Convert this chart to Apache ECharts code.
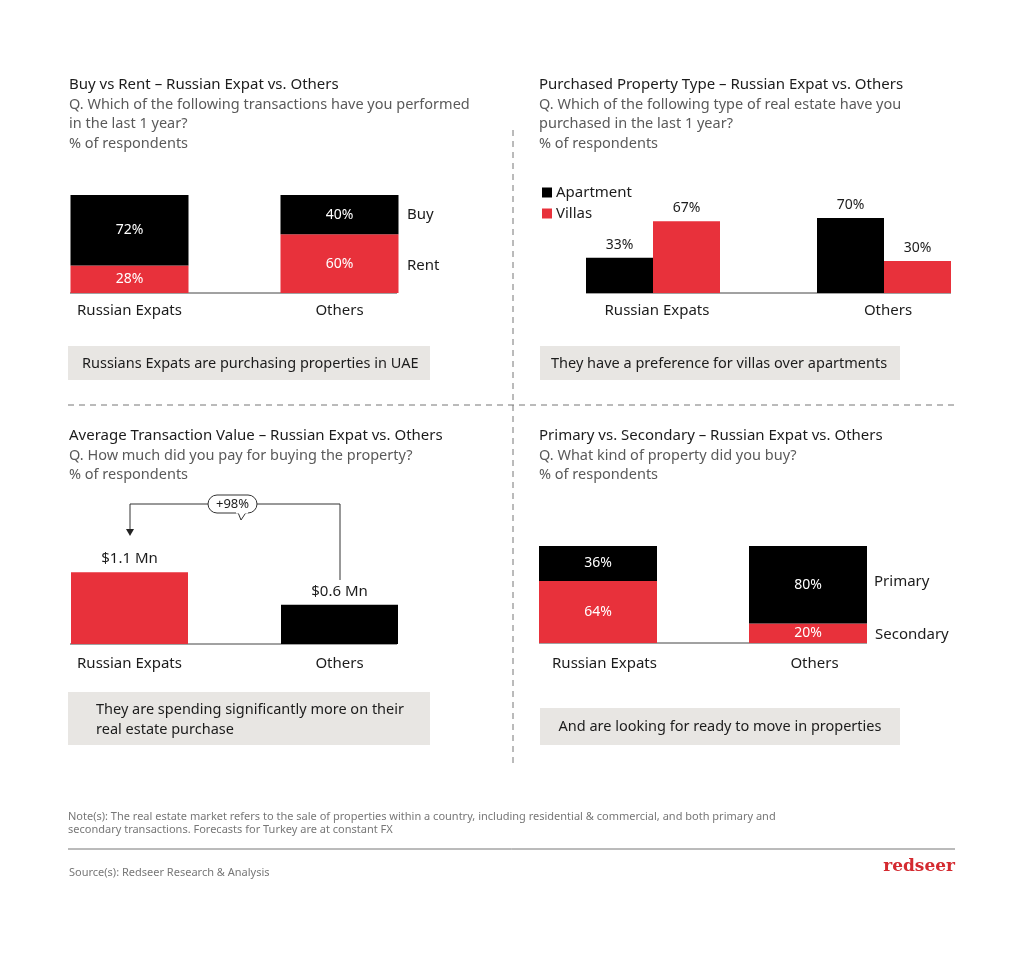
<!DOCTYPE html>
<html><head><meta charset="utf-8">
<script src="https://cdn.jsdelivr.net/npm/echarts@6/dist/echarts.min.js"></script>
<style>html,body{margin:0;padding:0;background:#fff}#c{width:1024px;height:953px}</style>
</head><body><div id="c"></div>
<script>
const categories = ['Russian Expats', 'Others'];
const buyVals = [72, 40];
const rentVals = [28, 60];
const apartmentVals = [33, 70];
const villaVals = [67, 30];
const atvVals = [1.1, 0.6];
const atvLabels = ['$1.1 Mn', '$0.6 Mn'];
const primaryVals = [36, 80];
const secondaryVals = [64, 20];

const RED = '#e8313b', BLACK = '#000000', DARK = '#1c1c1c', GREY = '#5a5a5a', BOX = '#e8e6e3';
const FONT = '"Noto Sans", Lato, sans-serif';

const chart = echarts.init(document.getElementById('c'), null, {renderer: 'canvas'});

function xAx(gi, margin, pad) {
  return {type: 'category', gridIndex: gi, data: categories, axisLine: {show: false}, axisTick: {show: false},
    axisLabel: {color: DARK, fontSize: 15, fontFamily: FONT, margin: margin, padding: pad || 0}};
}
function yAx(gi, max) {
  return {type: 'value', gridIndex: gi, min: 0, max: max, show: false, splitLine: {show: false}};
}
const inLabel = {show: true, position: 'inside', color: '#fff', fontSize: 14, fontFamily: FONT, formatter: p => p.value + '%'};

function txt(x, y, s, size, color, opts) {
  return Object.assign({type: 'text', x: x, y: y + 1.5, style: Object.assign({text: s, fill: color, font: size + 'px ' + FONT, textVerticalAlign: 'middle'}, opts || {})});
}
function hline(x1, x2, y, color, dash) {
  return {type: 'line', shape: {x1: x1, y1: y, x2: x2, y2: y}, style: {stroke: color, lineWidth: 1, lineDash: dash || null}};
}
function vline(x, y1, y2, color, dash) {
  return {type: 'line', shape: {x1: x, y1: y1, x2: x, y2: y2}, style: {stroke: color, lineWidth: 1, lineDash: dash || null}};
}
function box(x, y, w, h) {
  return {type: 'rect', shape: {x: x, y: y, width: w, height: h}, style: {fill: BOX}};
}

const graphics = [
  // dividers
  vline(513, 130, 765, '#777', [6, 5]),
  hline(68, 955, 405, '#777', [6, 5]),
  // panel 1 titles
  txt(69, 83, 'Buy vs Rent – Russian Expat vs. Others', 15, DARK),
  txt(69, 103, 'Q. Which of the following transactions have you performed', 14.5, GREY),
  txt(69, 122, 'in the last 1 year?', 14.5, GREY),
  txt(69, 142, '% of respondents', 14.5, GREY),
  // panel 2 titles
  txt(539, 83, 'Purchased Property Type – Russian Expat vs. Others', 15, DARK),
  txt(539, 103, 'Q. Which of the following type of real estate have you', 14.5, GREY),
  txt(539, 122, 'purchased in the last 1 year?', 14.5, GREY),
  txt(539, 142, '% of respondents', 14.5, GREY),
  // panel 3 titles
  txt(69, 434, 'Average Transaction Value – Russian Expat vs. Others', 15, DARK),
  txt(69, 454, 'Q. How much did you pay for buying the property?', 14.5, GREY),
  txt(69, 473, '% of respondents', 14.5, GREY),
  // panel 4 titles
  txt(539, 434, 'Primary vs. Secondary – Russian Expat vs. Others', 15, DARK),
  txt(539, 454, 'Q. What kind of property did you buy?', 14.5, GREY),
  txt(539, 473, '% of respondents', 14.5, GREY),
  // baselines
  hline(70, 397, 293, '#444'),
  hline(586, 951, 293, '#444'),
  hline(70, 397, 644, '#444'),
  hline(539, 867, 643, '#444'),
  // side labels
  txt(407, 213, 'Buy', 15, DARK),
  txt(407, 264, 'Rent', 15, DARK),
  txt(874, 580, 'Primary', 15, DARK),
  txt(875, 633, 'Secondary', 15, DARK),
  // callouts
  box(68, 346, 362, 34),
  txt(82, 362, 'Russians Expats are purchasing properties in UAE', 14.5, DARK),
  box(540, 346, 360, 34),
  txt(551, 362, 'They have a preference for villas over apartments', 14.5, DARK),
  box(68, 692, 362, 53),
  txt(96, 708, 'They are spending significantly more on their', 14.5, DARK),
  txt(96, 728, 'real estate purchase', 14.5, DARK),
  box(540, 708, 360, 37),
  txt(720, 725, 'And are looking for ready to move in properties', 14.5, DARK, {textAlign: 'center'}),
  // arrow annotation
  {type: 'polyline', shape: {points: [[340, 580], [340, 504], [257, 504]]}, style: {stroke: '#333', lineWidth: 1, fill: null}},
  {type: 'polyline', shape: {points: [[208, 504], [130, 504], [130, 529]]}, style: {stroke: '#333', lineWidth: 1, fill: null}},
  {type: 'polygon', shape: {points: [[126, 529], [134, 529], [130, 536]]}, style: {fill: '#222'}},
  {type: 'rect', shape: {x: 208, y: 495, width: 49, height: 18, r: 9}, style: {fill: '#fff', stroke: '#333', lineWidth: 1}},
  {type: 'polygon', shape: {points: [[238, 512.5], [246, 512.5], [241, 520]]}, style: {fill: '#fff', stroke: '#333', lineWidth: 1}},
  {type: 'rect', shape: {x: 236, y: 511, width: 12, height: 2.5}, style: {fill: '#fff'}},
  txt(232.5, 502.5, '+98%', 13, DARK, {textAlign: 'center'}),
  // footer
  txt(68, 815, 'Note(s): The real estate market refers to the sale of properties within a country, including residential & commercial, and both primary and', 11, '#777'),
  txt(68, 828, 'secondary transactions. Forecasts for Turkey are at constant FX', 11, '#777'),
  hline(68, 955, 849, '#777'),
  txt(69, 871, 'Source(s): Redseer Research & Analysis', 11, '#777'),
  {type: 'text', x: 955, y: 867, style: {text: 'redseer', fill: '#d42a30', font: 'bold 17px "DejaVu Serif", "Liberation Serif", serif', textAlign: 'right', textVerticalAlign: 'middle'}}
];

chart.setOption({
  animation: false,
  backgroundColor: '#fff',
  textStyle: {fontFamily: FONT},
  grid: [
    {left: 24.5, width: 420, top: 195, height: 98},
    {left: 537.5, width: 462, top: 186, height: 107},
    {left: 24.5, width: 420, top: 546, height: 98},
    {left: 493, width: 420, top: 546, height: 97}
  ],
  xAxis: [xAx(0, 10), xAx(1, 10, [0, 0, 0, 8]), xAx(2, 12), xAx(3, 13, [0, 0, 0, 13])],
  yAxis: [yAx(0, 100), yAx(1, 100), yAx(2, 1.5), yAx(3, 100)],
  legend: {
    orient: 'vertical', left: 537, top: 180, itemWidth: 10, itemHeight: 10, itemGap: 6, icon: 'rect',
    textStyle: {color: DARK, fontSize: 15, fontFamily: FONT, padding: [0, 0, 0, -1]},
    data: ['Apartment', 'Villas']
  },
  series: [
    {name: 'Rent', type: 'bar', xAxisIndex: 0, yAxisIndex: 0, stack: 'p1', data: rentVals, barWidth: 118, itemStyle: {color: RED}, label: inLabel},
    {name: 'Buy', type: 'bar', xAxisIndex: 0, yAxisIndex: 0, stack: 'p1', data: buyVals, barWidth: 118, itemStyle: {color: BLACK}, label: inLabel},
    {name: 'Apartment', type: 'bar', xAxisIndex: 1, yAxisIndex: 1, data: apartmentVals, barWidth: 67, barGap: '0%', itemStyle: {color: BLACK},
      label: {show: true, position: 'top', distance: 6, color: DARK, fontSize: 14, fontFamily: FONT, formatter: p => p.value + '%'}},
    {name: 'Villas', type: 'bar', xAxisIndex: 1, yAxisIndex: 1, data: villaVals, barWidth: 67, barGap: '0%', itemStyle: {color: RED},
      label: {show: true, position: 'top', distance: 6, color: DARK, fontSize: 14, fontFamily: FONT, formatter: p => p.value + '%'}},
    {name: 'ATV', type: 'bar', xAxisIndex: 2, yAxisIndex: 2, barWidth: 117,
      data: atvVals.map((v, i) => ({value: v, itemStyle: {color: i === 0 ? RED : BLACK}})),
      label: {show: true, position: 'top', distance: 6, color: DARK, fontSize: 15, fontFamily: FONT, formatter: p => atvLabels[p.dataIndex]}},
    {name: 'Secondary', type: 'bar', xAxisIndex: 3, yAxisIndex: 3, stack: 'p4', data: secondaryVals, barWidth: 118, itemStyle: {color: RED}, label: inLabel},
    {name: 'Primary', type: 'bar', xAxisIndex: 3, yAxisIndex: 3, stack: 'p4', data: primaryVals, barWidth: 118, itemStyle: {color: BLACK}, label: inLabel}
  ],
  graphic: graphics
});
</script></body></html>
